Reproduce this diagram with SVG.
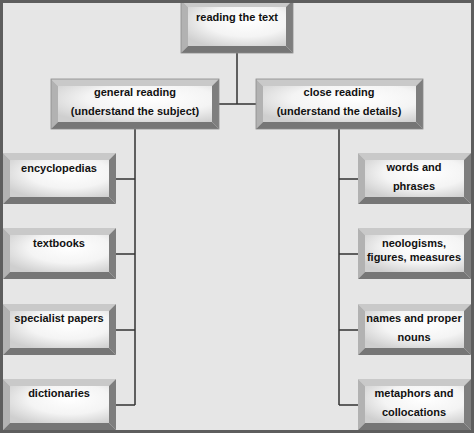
<svg xmlns="http://www.w3.org/2000/svg" width="474" height="433" viewBox="0 0 474 433">
<defs>
<radialGradient id="face" cx="0.6" cy="0.35" r="0.75">
<stop offset="0" stop-color="#ffffff"/>
<stop offset="0.55" stop-color="#f4f4f4"/>
<stop offset="1" stop-color="#cfcfcf"/>
</radialGradient>
</defs>
<style>
.bt{fill:#c9c9c9}
.bl{fill:#b2b2b2}
.br{fill:#7e7e7e}
.bb{fill:#767676}
.fc{fill:url(#face)}
.edge{fill:none;stroke:#8a8a8a;stroke-width:0.8}
text{font-family:"Liberation Sans",Arial,sans-serif;font-weight:bold;font-size:11px;fill:#111;text-anchor:middle}
.con{fill:none;stroke:#333;stroke-width:1.5}
</style>
<rect x="0" y="0" width="474" height="433" fill="#e6e6e6"/>
<g id="connectors">
<path class="con" d="M237 53 V104 M219 104 H256"/>
<path class="con" d="M135 129 V405 M116 179 H135 M116 254 H135 M116 330 H135 M116 405 H135"/>
<path class="con" d="M339 129 V405 M339 179 H358 M339 254 H358 M339 330 H358 M339 405 H358"/>
</g>
<g id="n-top">
<polygon class="bt" points="181,0 293,0 286,7 188,7"/>
<polygon class="bl" points="181,0 188,7 188,46 181,53"/>
<polygon class="br" points="293,0 293,53 286,46 286,7"/>
<polygon class="bb" points="181,53 293,53 286,46 188,46"/>
<rect class="fc" x="188" y="7" width="98" height="39"/>
<rect class="edge" x="181" y="0" width="112" height="53"/>
<text x="237" y="21">reading the text</text>
</g>
<g id="n-general">
<polygon class="bt" points="51,79 219,79 212,86 58,86"/>
<polygon class="bl" points="51,79 58,86 58,122 51,129"/>
<polygon class="br" points="219,79 219,129 212,122 212,86"/>
<polygon class="bb" points="51,129 219,129 212,122 58,122"/>
<rect class="fc" x="58" y="86" width="154" height="36"/>
<rect class="edge" x="51" y="79" width="168" height="50"/>
<text x="135" y="96">general reading</text>
<text x="135" y="115">(understand the subject)</text>
</g>
<g id="n-close">
<polygon class="bt" points="256,79 423,79 416,86 263,86"/>
<polygon class="bl" points="256,79 263,86 263,122 256,129"/>
<polygon class="br" points="423,79 423,129 416,122 416,86"/>
<polygon class="bb" points="256,129 423,129 416,122 263,122"/>
<rect class="fc" x="263" y="86" width="153" height="36"/>
<rect class="edge" x="256" y="79" width="167" height="50"/>
<text x="339" y="96">close reading</text>
<text x="339" y="115">(understand the details)</text>
</g>
<g id="n-encyclopedias">
<polygon class="bt" points="3,153 116,153 109,160 10,160"/>
<polygon class="bl" points="3,153 10,160 10,197 3,204"/>
<polygon class="br" points="116,153 116,204 109,197 109,160"/>
<polygon class="bb" points="3,204 116,204 109,197 10,197"/>
<rect class="fc" x="10" y="160" width="99" height="37"/>
<text x="59" y="172">encyclopedias</text>
</g>
<g id="n-textbooks">
<polygon class="bt" points="3,228 116,228 109,235 10,235"/>
<polygon class="bl" points="3,228 10,235 10,272 3,279"/>
<polygon class="br" points="116,228 116,279 109,272 109,235"/>
<polygon class="bb" points="3,279 116,279 109,272 10,272"/>
<rect class="fc" x="10" y="235" width="99" height="37"/>
<text x="59" y="247">textbooks</text>
</g>
<g id="n-specialist">
<polygon class="bt" points="3,304 116,304 109,311 10,311"/>
<polygon class="bl" points="3,304 10,311 10,348 3,355"/>
<polygon class="br" points="116,304 116,355 109,348 109,311"/>
<polygon class="bb" points="3,355 116,355 109,348 10,348"/>
<rect class="fc" x="10" y="311" width="99" height="37"/>
<text x="59" y="322">specialist papers</text>
</g>
<g id="n-dictionaries">
<polygon class="bt" points="3,379 116,379 109,386 10,386"/>
<polygon class="bl" points="3,379 10,386 10,423 3,430"/>
<polygon class="br" points="116,379 116,430 109,423 109,386"/>
<polygon class="bb" points="3,430 116,430 109,423 10,423"/>
<rect class="fc" x="10" y="386" width="99" height="37"/>
<text x="59" y="397">dictionaries</text>
</g>
<g id="n-words">
<polygon class="bt" points="358,153 471,153 464,160 365,160"/>
<polygon class="bl" points="358,153 365,160 365,197 358,204"/>
<polygon class="br" points="471,153 471,204 464,197 464,160"/>
<polygon class="bb" points="358,204 471,204 464,197 365,197"/>
<rect class="fc" x="365" y="160" width="99" height="37"/>
<text x="414" y="171">words and</text>
<text x="414" y="190">phrases</text>
</g>
<g id="n-neologisms">
<polygon class="bt" points="358,228 471,228 464,235 365,235"/>
<polygon class="bl" points="358,228 365,235 365,272 358,279"/>
<polygon class="br" points="471,228 471,279 464,272 464,235"/>
<polygon class="bb" points="358,279 471,279 464,272 365,272"/>
<rect class="fc" x="365" y="235" width="99" height="37"/>
<text x="414" y="247">neologisms,</text>
<text x="414" y="261">figures, measures</text>
</g>
<g id="n-names">
<polygon class="bt" points="358,304 471,304 464,311 365,311"/>
<polygon class="bl" points="358,304 365,311 365,348 358,355"/>
<polygon class="br" points="471,304 471,355 464,348 464,311"/>
<polygon class="bb" points="358,355 471,355 464,348 365,348"/>
<rect class="fc" x="365" y="311" width="99" height="37"/>
<text x="414" y="322">names and proper</text>
<text x="414" y="341">nouns</text>
</g>
<g id="n-metaphors">
<polygon class="bt" points="358,379 471,379 464,386 365,386"/>
<polygon class="bl" points="358,379 365,386 365,423 358,430"/>
<polygon class="br" points="471,379 471,430 464,423 464,386"/>
<polygon class="bb" points="358,430 471,430 464,423 365,423"/>
<rect class="fc" x="365" y="386" width="99" height="37"/>
<text x="414" y="397">metaphors and</text>
<text x="414" y="416">collocations</text>
</g>
<rect x="1.5" y="1.5" width="471" height="430" fill="none" stroke="#5e5e5e" stroke-width="3"/>
</svg>
